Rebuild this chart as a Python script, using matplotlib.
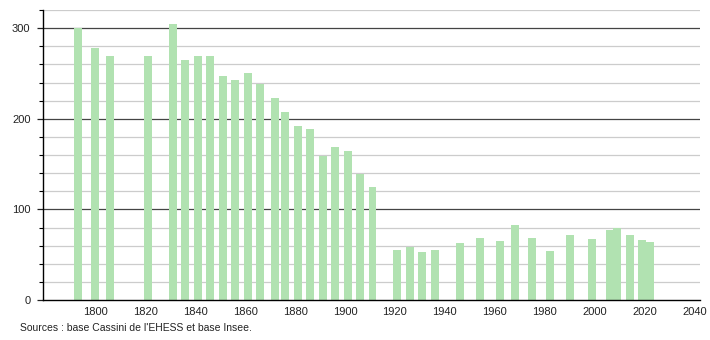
import matplotlib
matplotlib.use("Agg")
import matplotlib.pyplot as plt
from matplotlib.ticker import MultipleLocator

years = [1793, 1800, 1806, 1821, 1831, 1836, 1841, 1846, 1851, 1856, 1861, 1866,
         1872, 1876, 1881, 1886, 1891, 1896, 1901, 1906, 1911, 1921, 1926, 1931,
         1936, 1946, 1954, 1962, 1968, 1975, 1982, 1990, 1999, 2006, 2009, 2014,
         2019, 2022]
population = [300, 278, 269, 269, 305, 265, 269, 269, 247, 243, 250, 238,
              223, 208, 192, 189, 159, 169, 164, 139, 125, 55, 58, 53,
              55, 63, 68, 65, 83, 68, 54, 72, 67, 77, 79, 72,
              66, 64]
x_ticks = [1800, 1820, 1840, 1860, 1880, 1900, 1920, 1940, 1960, 1980, 2000, 2020, 2040]
y_ticks = [0, 100, 200, 300]
source_text = "Sources : base Cassini de l'EHESS et base Insee."

plt.rcParams['font.family'] = ['Liberation Sans', 'DejaVu Sans']

fig = plt.figure(figsize=(7.1, 3.4), dpi=100)
ax = fig.add_axes([43/710, 1 - 300/340, (700 - 43)/710, 290/340])

ax.set_xlim(1779.0, 2042.2)
ax.set_ylim(0, 320)

# grid
for v in range(20, 321, 20):
    if v % 100 == 0:
        ax.axhline(v, color='#444444', lw=0.9, zorder=1)
    else:
        ax.axhline(v, color='#cccccc', lw=0.9, zorder=1)

ax.bar(years, population, width=3.2, color='#b1e2b1', zorder=2, linewidth=0)

ax.set_xticks(x_ticks)
ax.set_yticks(y_ticks)
ax.yaxis.set_minor_locator(MultipleLocator(20))
ax.tick_params(axis='x', length=0, labelsize=8, pad=5, colors='#222222')
ax.tick_params(axis='y', which='major', length=4, width=0.9, labelsize=8, pad=5, colors='#222222')
ax.tick_params(axis='y', which='minor', length=3, width=0.8)

for s in ['top', 'right']:
    ax.spines[s].set_visible(False)
ax.spines['left'].set_linewidth(1.0)
ax.spines['bottom'].set_linewidth(1.0)

fig.text(20/710, 1 - 328/340, source_text, fontsize=7.5, va='center', ha='left', color='#222222')

fig.savefig("out.png", dpi=100)
